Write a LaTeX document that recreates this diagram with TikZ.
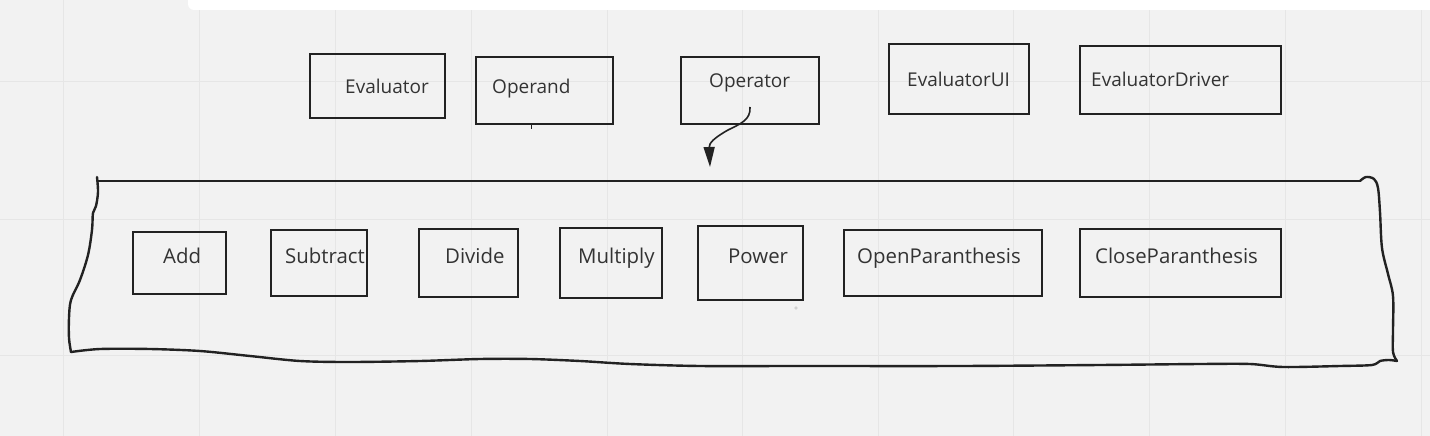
\documentclass[tikz,border=0pt]{standalone}
\usepackage{fontspec}
\setmainfont{Open Sans}
\usetikzlibrary{arrows.meta}
\definecolor{bg}{HTML}{F2F2F2}
\definecolor{gridc}{HTML}{E6E6E6}
\definecolor{ink}{HTML}{222222}
\definecolor{txtc}{HTML}{333333}
\tikzset{
  box/.style={draw=ink, line width=2.6pt, inner sep=0pt},
  lbl/.style={text=txtc, font=\fontsize{19}{21}\selectfont, anchor=base west, inner sep=0pt},
  lblb/.style={lbl, font=\fontsize{20.4}{22}\selectfont},
  hand/.style={draw=ink, line width=2.4pt, line cap=round, line join=round},
  conn/.style={draw=ink, line width=1.6pt, -{Triangle[length=20pt,width=11pt]}},
}
\newcommand{\bx}[5]{\path (#2,#3) coordinate (#1-nw) (#4,#5) coordinate (#1-se);
  \node[box, minimum width={(#4-#2)*1pt}, minimum height={(#5-#3)*1pt}] (#1) at ({(#2+#4)/2},{(#3+#5)/2}) {};}
\begin{document}
\begin{tikzpicture}[x=1pt,y=-1pt]
\useasboundingbox (0,0) rectangle (1430,436);
\fill[bg] (0,0) rectangle (1430,436);
% grid
\foreach \gx in {63,199,335,471,607,742,878,1013,1149,1285,1421}
  \draw[gridc, line width=1pt] (\gx,0) -- (\gx,436);
\foreach \gy in {82,219,355}
  \draw[gridc, line width=1pt] (0,\gy) -- (1430,\gy);
% white bar at top
\fill[white, rounded corners=6pt] (188,-10) rectangle (1440,10);
% top boxes
\bx{ev}{310}{54}{445}{118}
\node[lbl] (evt) at (345,93) {Evaluator};
\bx{opd}{476}{57}{613}{124}
\node[lbl] (opdt) at (492,93) {Operand};
\draw[ink, line width=1.6pt] (opd.south) ++(-13,0) coordinate (tk) -- ++(0,4);
\bx{opr}{681}{57}{819}{124}
\node[lbl] (oprt) at (709,88) {Operator};
\bx{eui}{889}{44}{1029}{114}
\node[lbl] (euit) at (907,87) {EvaluatorUI};
\bx{edr}{1080}{46}{1281}{114}
\node[lbl] (edrt) at (1091,87) {EvaluatorDriver};
% arrow
\coordinate (a0) at (750,107);
\coordinate (a1) at (710,167);
\draw[conn] (a0) .. controls (751,120) and (740,124) .. (728,130)
  .. controls (714,138) and (709,143) .. (a1);
% container (hand drawn)
\draw[hand] (98,181) -- (1360,181);
\draw[hand] plot[smooth, tension=0.55] coordinates {(97,177) (98,192) (96,206) (93,213) (92,230) (88,255) (80,280) (71,300) (69,318) (69,338) (71,352)};
\draw[hand] plot[smooth, tension=0.55] coordinates {(1360,181) (1366,177) (1374,179) (1378,188) (1380,212) (1382,248) (1388,274) (1393,296) (1393,330) (1393,352) (1397,361)};
\draw[hand] plot[smooth, tension=0.5] coordinates {(1397,361) (1389,360) (1380,361) (1372,365) (1340,366) (1283,367) (1250,364) (1200,364) (1100,365) (960,366) (800,366) (700,366) (630,364) (580,361) (530,359) (480,359) (420,361) (350,362) (300,361) (250,356) (200,351) (150,349) (100,349) (71,352)};
% inner boxes
\bx{add}{133}{232}{226}{294}
\node[lblb] (addt) at (163,263) {Add};
\bx{sub}{271}{230}{367}{296}
\node[lblb] (subt) at (285,263) {Subtract};
\bx{div}{419}{229}{518}{297}
\node[lblb] (divt) at (445,263) {Divide};
\bx{mul}{560}{228}{662}{298}
\node[lblb] (mult) at (578,263) {Multiply};
\bx{pow}{698}{226}{803}{300}
\node[lblb] (powt) at (728,263) {Power};
\fill[gray!60] (796,308) circle (1.6pt) coordinate (dot);
\fill[bg] (796,308) circle (0.8pt);
\bx{opn}{844}{230}{1042}{296}
\node[lblb] (opnt) at (857,263) {OpenParanthesis};
\bx{cls}{1080}{229}{1281}{297}
\node[lblb] (clst) at (1095,263) {CloseParanthesis};
\end{tikzpicture}
\end{document}
